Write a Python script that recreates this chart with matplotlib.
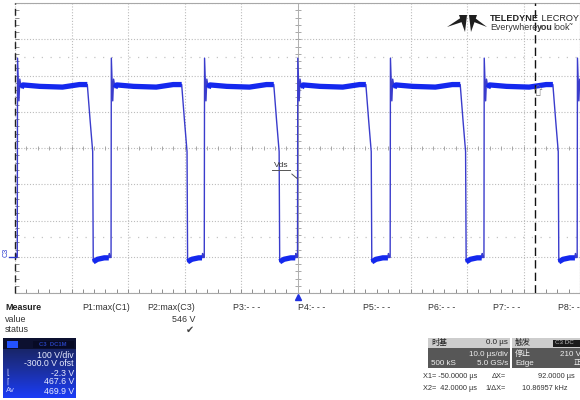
import matplotlib
matplotlib.use("Agg")
import matplotlib.pyplot as plt
import matplotlib.transforms as mtransforms
from matplotlib.patches import Rectangle, Polygon
from matplotlib.colors import LinearSegmentedColormap
import numpy as np

plt.rcParams['font.family'] = ['Liberation Sans', 'Noto Sans CJK SC', 'DejaVu Sans']

# scope screen: 10 us/div, 100 V/div, -300 V offset (0 V is 3 div below centre)
t_lim = (-50.0, 50.0)
v_lim = (-100.0, 700.0)
t_div = 10.0
v_div = 100.0
cursor_t = [-50.0, 42.0]
trig_t = 0.0
ref_levels = [551.0, 55.0]

# edge times (us)
rise_t = [-49.6, -33.0, -16.5, 0.0, 16.4, 33.0, 49.5]
fall_t = [-37.2, -20.5, -4.2, 12.1, 28.8, 45.2]

# turn-on ringing, offsets after each rising edge
ring_dt = [0.0, 0.05, 0.15, 0.3, 0.45, 0.7, 1.0]
ring_v = [-2, 548, 500, 430, 490, 466, 474]
# flat top, offsets after the rising edge
top_dt = [1.0, 4.0, 8.0, 11.0]
top_v = [474, 470, 468, 475]
# turn-off edge, offsets after the fall start
off_dt = [0.0, 0.5, 0.95, 1.05]
off_v = [475, 375, 290, -14]
# off-state floor, offsets after the fall start
floor_dt = [1.05, 1.8, 3.0]
floor_v = [-14, -7, -3]
# small spikes just before turn-on, offsets before the rising edge
pre_dt = [-0.4, -0.3, -0.2, -0.02]
pre_v = [-3, 9, -2, -2]

meas_names = ['P1:max(C1)', 'P2:max(C3)', 'P3:- - -', 'P4:- - -',
              'P5:- - -', 'P6:- - -', 'P7:- - -', 'P8:- - -']
meas_values = ['', '546 V', '', '', '', '', '', '']
meas_status = ['', '\u2714', '', '', '', '', '', '']

ch_lines = ['100 V/div', '-300.0 V ofst', '-2.3 V', '467.6 V', '469.9 V']
ch_tags = ['', '', '\u230a', '\u2308', 'Av']


def build_trace():
    t, v, flat = [t_lim[0]], [floor_v[-1]], [True]

    def add(tt, vv, f):
        t.append(tt); v.append(vv); flat.append(f)

    for i, tr in enumerate(rise_t):
        for k, (dt, vv) in enumerate(zip(pre_dt, pre_v)):
            add(tr + dt, vv, k == 0)
        for dt, vv in zip(ring_dt, ring_v):
            add(tr + dt, vv, dt >= 0.7)
        tf = fall_t[i] if i < len(fall_t) else None
        for dt, vv in zip(top_dt, top_v):
            if tf is None or tr + dt < tf:
                add(tr + dt, vv, True)
        if tf is None:
            continue
        for dt, vv in zip(off_dt, off_v):
            add(tf + dt, vv, dt == 0.0)
        for dt, vv in zip(floor_dt, floor_v):
            add(tf + dt, vv, True)
    return np.array(t), np.array(v), np.array(flat)


fig = plt.figure(figsize=(5.8, 4.0), dpi=100)
fig.patch.set_facecolor('white')

W, H = 580.0, 400.0
ax = fig.add_axes([15 / W, 1 - 293 / H, 565 / W, 290 / H], zorder=1)
ax.set_xlim(*t_lim)
ax.set_ylim(*v_lim)

grid_c = '#bcbcbc'
ax.set_xticks(np.arange(t_lim[0], t_lim[1] + 0.1, t_div))
ax.set_yticks(np.arange(v_lim[0], v_lim[1] + 0.1, v_div))
ax.set_xticks(np.arange(t_lim[0], t_lim[1] + 0.1, t_div / 5), minor=True)
ax.set_yticks(np.arange(v_lim[0], v_lim[1] + 0.1, v_div / 5), minor=True)
ax.set_xticklabels([])
ax.set_yticklabels([])
ax.tick_params(which='both', direction='in', length=3, width=0.7, color='#8c8c8c',
               top=False, right=False)
ax.grid(which='major', color=grid_c, ls=(0, (1, 1.6)), lw=0.8)
for s in ax.spines.values():
    s.set_color('#a8a8a8')
    s.set_linewidth(0.8)
ax.spines['left'].set_visible(False)

for lv in ref_levels:
    ax.axhline(lv, color='#c4c4c4', ls=(0, (1, 6)), lw=0.9)

# centre cross with small division ticks
xc = np.arange(t_lim[0], t_lim[1] + 0.1, t_div / 5)
yc = np.arange(v_lim[0], v_lim[1] + 0.1, v_div / 5)
ax.plot(xc, np.full_like(xc, 300.0), ls='none', marker='|', ms=3, mew=0.6, color='#9a9a9a')
ax.plot(np.full_like(yc, 0.0), yc, ls='none', marker='_', ms=4, mew=0.6, color='#9a9a9a')
ax.axvline(0.0, color='#b0b0b0', lw=0.7)

# trace
t, v, flat = build_trace()
ax.plot(t, v, color='#3a3ccc', lw=1.0, zorder=3)
vb = np.ma.masked_where(~flat, v)
ax.plot(t, vb, color='#1428ee', lw=3.8, solid_capstyle='butt', zorder=4)

# cursors
ax.axvline(cursor_t[0], color='#222222', lw=1.0, ls=(0, (5, 3)), clip_on=False, zorder=5)
ax.axvline(cursor_t[1], color='#111111', lw=1.0, ls=(0, (6, 3)), zorder=5)

# trigger marker
trans = mtransforms.blended_transform_factory(ax.transData, ax.transAxes)
ax.plot([trig_t], [-0.014], transform=trans, marker='^', ms=5, color='#2030e0',
        clip_on=False, zorder=6)

ax.annotate('Vds', xy=(0.0, 215), xytext=(-2.9, 253), fontsize=6, color='#333333',
            ha='center', va='center',
            arrowprops=dict(arrowstyle='-', color='#555555', lw=0.7, shrinkA=3, shrinkB=0))

# ---- overlay in pixel coords for the screen furniture ----
ov = fig.add_axes([0, 0, 1, 1], zorder=5)
ov.axis('off')
ov.set_xlim(0, W)
ov.set_ylim(H, 0)
renderer = fig.canvas.get_renderer()


def text_run(x, y, parts, **kw):
    # consecutive pieces of text with their own styles, left to right
    for s, extra in parts:
        tx = ov.text(x, y, s, va='center', **kw, **extra)
        x += tx.get_window_extent(renderer).width


# Vds underline, C3 ground marker
ov.plot([272, 290], [169.5, 169.5], color='#555555', lw=0.7)
ov.text(6.5, 252, 'C3', rotation=90, fontsize=5.2, color='#2a3ad0', ha='center', va='center')
ov.plot([9, 15], [257, 257], color='#2a3ad0', lw=1.0)

# mouse pointer near the X2 cursor
ov.text(537, 92, '\u21e7', fontsize=9, color='#777777', ha='center', va='center')

# logo
logo = [[(447, 27), (465, 15), (462, 22)],
        [(459, 15), (467, 15), (465, 32)],
        [(469, 15), (477, 15), (471, 32)],
        [(471, 15), (487, 27), (474, 22)]]
for p in logo:
    ov.add_patch(Polygon(p, closed=True, color='#1e1e1e', lw=0))
text_run(490, 18.5, [('TELEDYNE', dict(fontweight='bold')), (' LECROY', {})],
         fontsize=6.6, color='#222222')
text_run(490, 27.5, [('Everywhere', {}), ('you', dict(fontweight='bold')), ('look\u02dc', {})],
         fontsize=6.4, color='#333333')

# measurement table
txt = '#333333'
fs = 6.4
ov.text(5, 307, 'Measure', fontsize=fs, fontweight='bold', color='#222222', va='center')
ov.text(5, 319, 'value', fontsize=fs, color=txt, va='center')
ov.text(5, 330, 'status', fontsize=fs, color=txt, va='center')
for k, name in enumerate(meas_names):
    xr = 130 + 65 * k
    ov.text(xr, 307, name, fontsize=fs, color=txt, ha='right', va='center')
    if meas_values[k]:
        ov.text(xr, 319, meas_values[k], fontsize=fs, color=txt, ha='right', va='center')
    if meas_status[k]:
        ov.text(xr - 5, 330, meas_status[k], fontsize=7, color='#444444', ha='center', va='center')

# channel descriptor box
cmap_ch = LinearSegmentedColormap.from_list('ch', ['#16204e', '#1c2f9a', '#1a3cf6'])
ov.imshow(np.linspace(0, 1, 60).reshape(-1, 1), extent=(3, 76, 398, 338), cmap=cmap_ch,
          aspect='auto', zorder=1)
ov.add_patch(Rectangle((3, 338), 73, 11, color='#0c1030', lw=0, zorder=2))
ov.add_patch(Rectangle((7, 340.5), 11, 7.5, color='#2352ff', lw=0, zorder=3))
ov.add_patch(Rectangle((33, 340.5), 41, 7.5, color='#070a25', lw=0, zorder=3))
ov.text(53, 344.3, 'C3  DC1M', fontsize=4.2, color='#2740b8', ha='center', va='center',
        fontweight='bold', zorder=4)
for k, (line, tag) in enumerate(zip(ch_lines, ch_tags)):
    y = 355 + 9 * k
    ov.text(74, y, line, fontsize=6.3, color='#e8ecff', ha='right', va='center', zorder=4)
    if tag:
        ov.text(6, y, tag, fontsize=5.5, color='#c8d0ff', ha='left', va='center', zorder=4)

# timebase / trigger boxes
ov.add_patch(Rectangle((428, 338), 82, 10, color='#cdcdcd', lw=0, zorder=1))
ov.add_patch(Rectangle((428, 348), 82, 20, color='#575757', lw=0, zorder=1))
ov.add_patch(Rectangle((512, 338), 70, 10, color='#cdcdcd', lw=0, zorder=1))
ov.add_patch(Rectangle((512, 348), 70, 20, color='#575757', lw=0, zorder=1))
ov.add_patch(Rectangle((553, 339.5), 30, 7.5, color='#1b1b1b', lw=0, zorder=2))
bs = 5.8
ov.text(431, 343, '时基', fontsize=bs, color='#222222', va='center', zorder=3)
ov.text(508, 343, '0.0 µs', fontsize=bs, color='#222222', ha='right', va='center', zorder=3)
ov.text(508, 354, '10.0 µs/div', fontsize=bs, color='#f0f0f0', ha='right', va='center', zorder=3)
ov.text(431, 363.5, '500 kS', fontsize=bs, color='#f0f0f0', va='center', zorder=3)
ov.text(508, 363.5, '5.0 GS/s', fontsize=bs, color='#f0f0f0', ha='right', va='center', zorder=3)
ov.text(515, 343, '触发', fontsize=bs, color='#222222', va='center', zorder=3)
ov.text(555, 343, 'C3 DC', fontsize=4.5, color='#bbbbbb', va='center', zorder=3)
ov.text(515, 354, '停止', fontsize=bs, color='#f0f0f0', va='center', zorder=3)
ov.text(560, 354, '210 V', fontsize=bs, color='#f0f0f0', ha='left', va='center', zorder=3)
ov.text(515, 363.5, 'Edge', fontsize=bs, color='#f0f0f0', va='center', zorder=3)
ov.text(574, 363.5, '正', fontsize=bs, color='#f0f0f0', ha='left', va='center', zorder=3)

# cursor readouts
rs = 5.3
ov.text(423, 377, 'X1= -50.0000 µs', fontsize=rs, color=txt, va='center')
ov.text(492, 377, '\u0394X=', fontsize=rs, color=txt, va='center')
ov.text(538, 377, '92.0000 µs', fontsize=rs, color=txt, va='center')
ov.text(423, 389, 'X2=  42.0000 µs', fontsize=rs, color=txt, va='center')
ov.text(485, 389, '1/\u0394X=', fontsize=rs, color=txt, va='center')
ov.text(522, 389, '10.86957 kHz', fontsize=rs, color=txt, va='center')

fig.savefig('out.png', dpi=100, facecolor='white')
